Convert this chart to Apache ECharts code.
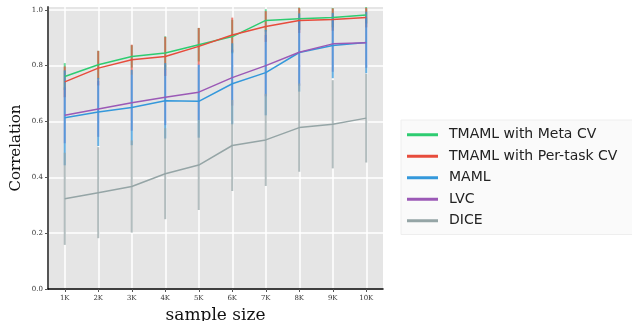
<!DOCTYPE html>
<html>
<head>
<meta charset="utf-8">
<script src="https://cdn.jsdelivr.net/npm/echarts@6/dist/echarts.min.js"></script>
<style>
  html, body { margin: 0; padding: 0; background: #fff; }
  #chart { width: 632px; height: 321px; }
</style>
</head>
<body>
<div id="chart"></div>
<script>
// x 轴：样本量（单位 K）
const sizes = [1, 2, 3, 4, 5, 6, 7, 8, 9, 10];
const yTicks = [0, 0.2, 0.4, 0.6, 0.8, 1.0];

// 各方法的均值与误差（±）
const metaCV = [0.761, 0.803, 0.833, 0.845, 0.875, 0.904, 0.962, 0.968, 0.972, 0.981];
const metaCVErr = [0.048, 0.05, 0.04, 0.06, 0.06, 0.06, 0.04, 0.04, 0.035, 0.03];
const perTask = [0.742, 0.791, 0.821, 0.833, 0.869, 0.910, 0.940, 0.962, 0.965, 0.972];
const perTaskErr = [0.055, 0.062, 0.054, 0.07, 0.066, 0.062, 0.055, 0.045, 0.04, 0.035];
const maml = [0.613, 0.634, 0.650, 0.674, 0.672, 0.735, 0.775, 0.847, 0.872, 0.883];
const mamlErr = [0.17, 0.122, 0.135, 0.135, 0.13, 0.145, 0.153, 0.14, 0.117, 0.11];
const lvc = [0.622, 0.645, 0.667, 0.687, 0.705, 0.757, 0.800, 0.848, 0.878, 0.882];
const lvcErr = [0.1, 0.1, 0.1, 0.1, 0.1, 0.1, 0.11, 0.12, 0.1, 0.09];
const dice = [0.323, 0.345, 0.367, 0.413, 0.444, 0.514, 0.534, 0.578, 0.590, 0.612];
const diceErr = [0.165, 0.163, 0.165, 0.163, 0.161, 0.163, 0.165, 0.158, 0.158, 0.159];

const names = ["TMAML with Meta CV", "TMAML with Per-task CV", "MAML", "LVC", "DICE"];
const colors = ["#2ecc71", "#e74c3c", "#3498db", "#9b59b6", "#95a5a6"];

const Y_MAX = 1.01;

// 误差线：每个样本量一条竖线
function errorBars(values, errs, color, opacity) {
    return {
        type: "custom",
        silent: true,
        data: sizes.map((s, i) => [s, values[i] - errs[i], values[i] + errs[i]]),
        encode: { x: 0, y: [1, 2] },
        renderItem(params, api) {
            const lo = api.coord([api.value(0), Math.max(api.value(1), 0)]);
            const hi = api.coord([api.value(0), Math.min(api.value(2), Y_MAX)]);
            return {
                type: "line",
                shape: { x1: lo[0], y1: lo[1], x2: hi[0], y2: hi[1] },
                style: { stroke: color, lineWidth: 2, opacity }
            };
        }
    };
}

function meanLine(name, values, color) {
    return {
        name,
        type: "line",
        symbol: "none",
        color,
        lineStyle: { width: 1.5, color },
        data: sizes.map((s, i) => [s, values[i]])
    };
}

// 绘制顺序：LVC 的误差线放在 MAML 下面，蓝色更明显
const series = [
    errorBars(metaCV, metaCVErr, colors[0], 0.72),
    meanLine(names[0], metaCV, colors[0]),
    errorBars(perTask, perTaskErr, colors[1], 0.72),
    meanLine(names[1], perTask, colors[1]),
    errorBars(lvc, lvcErr, colors[3], 0.6),
    errorBars(maml, mamlErr, colors[2], 0.75),
    meanLine(names[2], maml, colors[2]),
    meanLine(names[3], lvc, colors[3]),
    errorBars(dice, diceErr, colors[4], 0.72),
    meanLine(names[4], dice, colors[4]),
];

const chart = echarts.init(document.getElementById("chart"), null, { renderer: "canvas" });
chart.setOption({
    animation: false,
    backgroundColor: "#fff",
    grid: {
        left: 48, top: 7, width: 335, height: 282,
        outerBoundsMode: "none",
        backgroundColor: "#e5e5e5", show: true, borderWidth: 0
    },
    legend: {
        data: names,
        orient: "vertical",
        left: 401,
        top: 120,
        padding: [4, 20, 3, 6],
        itemGap: 0,
        itemWidth: 31,
        itemHeight: 3,
        icon: "rect",
        backgroundColor: "#fafafa",
        borderColor: "#eeeeee",
        borderWidth: 1,
        textStyle: {
            fontFamily: "DejaVu Sans",
            fontSize: 14,
            color: "#222",
            lineHeight: 21.5,
            padding: [0, 0, 0, 6]
        }
    },
    xAxis: {
        type: "value",
        min: 0.5,
        max: 10.5,
        name: "sample size",
        nameLocation: "middle",
        nameGap: 15,
        nameTextStyle: { fontFamily: "DejaVu Serif", fontSize: 17, color: "#111" },
        axisLine: { show: true, onZero: false, lineStyle: { color: "#000", width: 1.5 } },
        axisTick: { show: true, length: 3, customValues: sizes, lineStyle: { color: "#555" } },
        axisLabel: {
            customValues: sizes,
            formatter: (v) => v + "K",
            fontFamily: "DejaVu Serif",
            fontSize: 7,
            color: "#333",
            margin: 6
        },
        splitLine: { show: true, lineStyle: { color: "#ffffff", width: 1.5 } }
    },
    yAxis: {
        type: "value",
        min: 0,
        max: Y_MAX,
        name: "Correlation",
        nameLocation: "middle",
        nameMoveOverlap: false,
        nameGap: 24,
        nameTextStyle: { fontFamily: "DejaVu Serif", fontSize: 15, color: "#111" },
        axisLine: { show: true, lineStyle: { color: "#555", width: 2 } },
        axisTick: { show: true, length: 3, customValues: yTicks, lineStyle: { color: "#555" } },
        axisLabel: {
            customValues: yTicks,
            formatter: (v) => v.toFixed(1),
            fontFamily: "DejaVu Serif",
            fontSize: 7,
            color: "#333",
            margin: 5
        },
        splitLine: { show: true, lineStyle: { color: "#ffffff", width: 1.5 } }
    },
    series
});
</script>
</body>
</html>
